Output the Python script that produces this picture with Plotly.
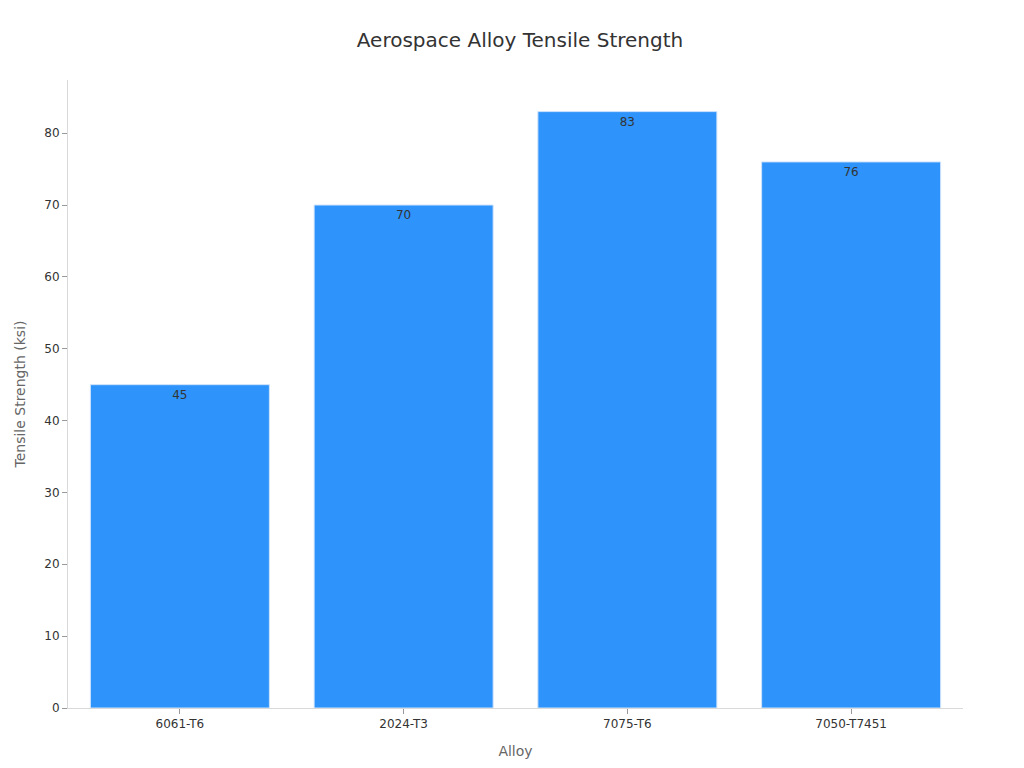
import plotly.graph_objects as go

alloys = ["6061-T6", "2024-T3", "7075-T6", "7050-T7451"]
strength = [45, 70, 83, 76]

fig = go.Figure(go.Bar(
    x=alloys, y=strength, text=strength, textposition="inside",
    insidetextanchor="end", textfont=dict(color="#333333", size=12),
    marker=dict(color="#2E93FA", line=dict(color="#cfe3fb", width=1)),
    width=0.8,
))
fig.update_layout(
    width=1024, height=768,
    margin=dict(l=52, r=69, t=72, b=68),
    paper_bgcolor="white", plot_bgcolor="white",
    font=dict(family="DejaVu Sans", color="#333333", size=12),
    title=dict(text="Aerospace Alloy Tensile Strength", x=0.5, y=0.967,
               xanchor="center", font=dict(size=20, color="#333333")),
    showlegend=False,
    xaxis=dict(title=dict(text="Alloy", font=dict(size=14, color="#666666")),
               showline=True, linecolor="#d9d9d9", ticks="outside",
               tickcolor="#999999", ticklen=5),
    yaxis=dict(title=dict(text="Tensile Strength (ksi)", font=dict(size=14, color="#666666")),
               showline=True, linecolor="#d9d9d9", ticks="outside",
               tickcolor="#999999", ticklen=5, showgrid=False,
               range=[0, 87.4], dtick=10, zeroline=False),
)
fig.write_html("out.html")
